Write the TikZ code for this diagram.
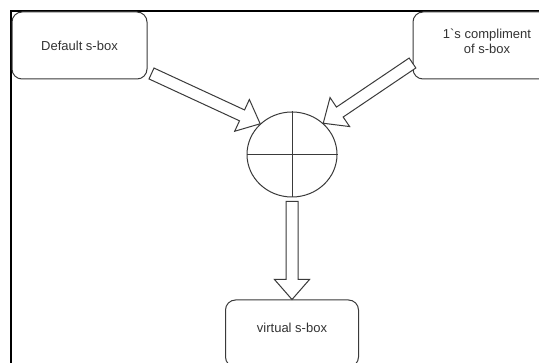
\documentclass[tikz,border=0pt]{standalone}
\usepackage{fontspec}
\newfontfamily\drawfont{Liberation Sans}
\usetikzlibrary{calc,shapes.geometric}

\definecolor{edge}{HTML}{3A3A3A}
\definecolor{txt}{HTML}{333333}

\tikzset{
  frameline/.style={line width=2pt, black},
  sbox/.style={draw=edge, line width=1pt, rounded corners=10pt, fill=white,
               inner sep=0pt, minimum height=67pt},
  lbl/.style={font=\drawfont\fontsize{13}{15.5}\selectfont, text=txt, align=center, inner sep=0pt},
  mixer/.style={ellipse, draw=edge, line width=1pt, minimum width=90pt,
                minimum height=85pt, inner sep=0pt, fill=white},
  fat/.style={draw=edge, line width=1pt, fill=white, line join=miter},
}

% hollow block arrow from #1 (tail) to #2 (tip)
\newcommand\flexarrow[2]{%
  \coordinate (fab) at ($(#2)!20pt!(#1)$);
  \draw[fat] ($(#1)!6pt!90:(#2)$) -- ($(fab)!6pt!90:(#2)$)
    -- ($(fab)!17.5pt!90:(#2)$) -- (#2) -- ($(fab)!17.5pt!-90:(#2)$)
    -- ($(fab)!6pt!-90:(#2)$) -- ($(#1)!6pt!-90:(#2)$) -- cycle;
}

\begin{document}
\begin{tikzpicture}[x=1pt, y=-1pt]
  \useasboundingbox (0,0) rectangle (539,363);
  \clip (0,0) rectangle (539,363);
  \fill[white] (0,0) rectangle (539,363);

  % outer frame (top and left edges)
  \draw[frameline] (539,11) -- (11,11) -- (11,363);

  % s-box blocks
  \node[sbox, minimum width=135pt] (dflt) at (79.5,45.5) {};
  \node[lbl] (dflttxt) at (dflt.center) {Default s-box};

  \node[sbox, minimum width=148pt] (cmpl) at (487,45.5) {};
  \node[lbl] (cmpltxt) at ($(cmpl.center)+(0,-4)$) {1\symbol{96}s compliment\\of s-box};

  \node[sbox, minimum width=133pt] (vbox) at (292,333.5) {};
  \node[lbl] (vboxtxt) at ($(vbox.north)+(0,28)$) {virtual s-box};

  % combining circle with cross
  \node[mixer] (mix) at (292,154.5) {};
  \draw[edge, line width=1pt] (mix.north) -- (mix.south);
  \draw[edge, line width=1pt] (mix.west) -- (mix.east);

  % block arrows
  \coordinate (t1) at ($(dflt.south east)+(4,-6)$);
  \coordinate (t2) at ($(cmpl.west)+(0,17.5)$);
  \coordinate (t3) at ($(mix.south)+(0,4)$);
  \flexarrow{t1}{mix.136}
  \flexarrow{t2}{mix.45}
  \flexarrow{t3}{vbox.north}
\end{tikzpicture}
\end{document}
